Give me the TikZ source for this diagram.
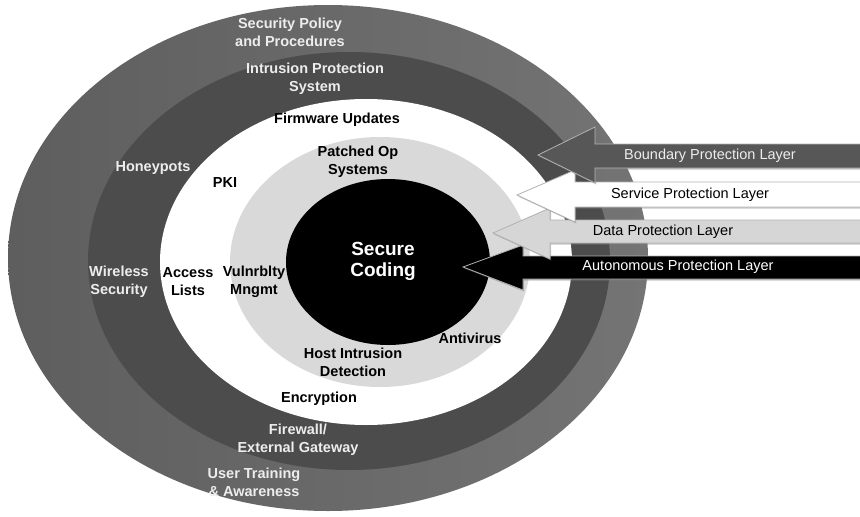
\documentclass[tikz,border=0pt]{standalone}
\usepackage{fontspec}
\setmainfont{Liberation Sans}
\usetikzlibrary{shadows}

\definecolor{ringoutL}{HTML}{5E5E5E}
\definecolor{ringoutR}{HTML}{747474}
\definecolor{ringdark}{HTML}{4C4C4C}
\definecolor{ringlight}{HTML}{D9D9D9}
\definecolor{lighttxt}{HTML}{EDEDED}
\definecolor{arrowdark}{HTML}{575757}
\definecolor{arrowlight}{HTML}{D6D6D6}

\begin{document}
\begin{tikzpicture}[x=1pt, y=-1pt,
  inlbl/.style={font=\bfseries\fontsize{14.5}{18}\selectfont, align=center, inner sep=0pt},
  outlbl/.style={inlbl, text=lighttxt},
  layerarrow/.style={draw=gray!60, line width=0.8pt,
    drop shadow={shadow xshift=1.2pt, shadow yshift=-1.5pt, opacity=0.45}},
  layerlbl/.style={font=\fontsize{14.5}{17}\selectfont, inner sep=0pt}]
  \useasboundingbox (0,0) rectangle (860,517);

  % Rings, outside in
  \shade[left color=ringoutL, right color=ringoutR] (328,258) ellipse [x radius=320, y radius=253];
  \fill[ringdark] (349,261) ellipse [x radius=261, y radius=209];
  \fill[white] (366,262) ellipse [x radius=206, y radius=163];
  \fill[ringlight] (380,262) ellipse [x radius=150, y radius=125];
  \fill[black] (388,262) ellipse [x radius=102, y radius=83];

  % Outer ring labels
  \node[outlbl] (policy) at (290,32) {Security Policy\\and Procedures};
  \node[outlbl] (training) at (254,482) {User Training\\\& Awareness};

  % Dark ring labels
  \node[outlbl] (ips) at (315,79) {Intrusion Protection\\System};
  \node[outlbl] (honeypots) at (153,168) {Honeypots};
  \node[outlbl] (wireless) at (119,282) {Wireless\\Security};
  \node[outlbl] (firewall) at (298,440) {Firewall/\\External Gateway};

  % White ring labels
  \node[inlbl] (firmware) at (337,120) {Firmware Updates};
  \node[inlbl] (pki) at (225,183) {PKI};
  \node[inlbl] (access) at (188,282) {Access\\Lists};
  \node[inlbl] (encryption) at (319,399) {Encryption};
  \node[inlbl] (antivirus) at (470,338) {Antivirus};

  % Light ring labels
  \node[inlbl] (patched) at (358,162) {Patched Op\\Systems};
  \node[inlbl] (vulnmgmt) at (254,282) {Vulnrblty\\Mngmt};
  \node[inlbl] (hids) at (353,362) {Host Intrusion\\Detection};

  % Core
  \node[inlbl, font=\bfseries\fontsize{19}{21}\selectfont, text=white] (coding) at (383,261) {Secure\\Coding};

  % Layer arrows, lowest first
  \filldraw[layerarrow, fill=black] (864,256) -- (523,256) -- (523,245) -- (463,267)
    -- (523,290) -- (523,279) -- (864,279) -- cycle;
  \node[layerlbl, text=white] (autonomous) at (678,267) {Autonomous Protection Layer};

  \filldraw[layerarrow, fill=arrowlight] (864,220) -- (550,220) -- (550,208) -- (493,233)
    -- (550,259) -- (550,243) -- (864,243) -- cycle;
  \node[layerlbl] (data) at (663,232) {Data Protection Layer};

  \filldraw[layerarrow, fill=white] (864,182) -- (575,182) -- (575,170) -- (517,195)
    -- (575,222) -- (575,207) -- (864,207) -- cycle;
  \node[layerlbl] (service) at (690,195) {Service Protection Layer};

  \filldraw[layerarrow, fill=arrowdark] (864,144) -- (595,144) -- (595,127) -- (538,155)
    -- (595,183) -- (595,168) -- (864,168) -- cycle;
  \node[layerlbl, text=lighttxt] (boundary) at (710,156) {Boundary Protection Layer};
\end{tikzpicture}
\end{document}
